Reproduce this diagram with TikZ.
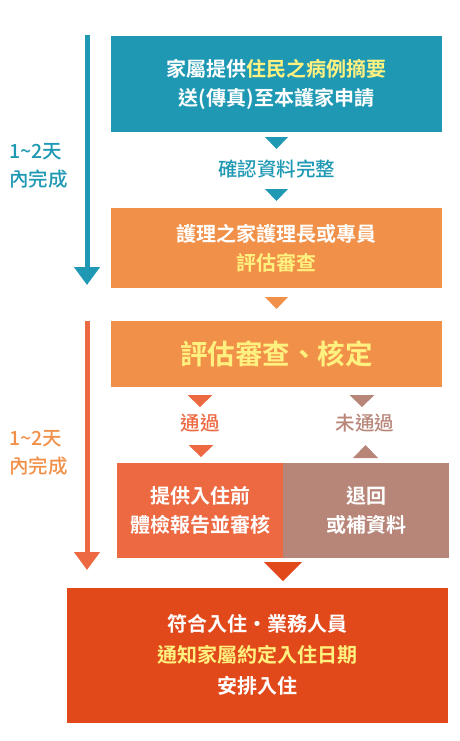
\documentclass[tikz,border=0pt]{standalone}
\usepackage{fontspec}
\setmainfont{Noto Sans CJK TC}[BoldFont={* Bold}]
\newfontfamily\labelfont{Noto Sans CJK TC Medium}
\usetikzlibrary{arrows.meta}

\definecolor{stepblue}{HTML}{1F99B3}
\definecolor{steporange}{HTML}{F19149}
\definecolor{passred}{HTML}{EC6941}
\definecolor{failbrown}{HTML}{B78679}
\definecolor{finalred}{HTML}{E2491A}
\definecolor{hilite}{HTML}{FFF17F}

\tikzset{
	box/.style={fill=#1, text=white, font=\bfseries\fontsize{20}{29}\selectfont, align=center, inner sep=0pt},
	note/.style={text=#1, font=\labelfont\fontsize{19.5}{28}\selectfont, inner sep=0pt},
	timeline/.style={draw=#1, line width=5pt, -{Triangle[width=25pt,length=18pt]}},
}

\begin{document}
\begin{tikzpicture}[x=1pt, y=-1pt]
	\useasboundingbox (0,0) rectangle (460,741);
	% Boxes
	\node [box=stepblue, minimum width=331pt, minimum height=96pt] (request) at (276.5,84)
		{家屬提供\textcolor{hilite}{住民之病例摘要}\\送(傳真)至本護家申請};
	\node [box=steporange, minimum width=331pt, minimum height=80pt] (review) at (276.5,248)
		{護理之家護理長或專員\\\textcolor{hilite}{評估審查}};
	\node [box=steporange, minimum width=331pt, minimum height=66pt, text=hilite, font=\bfseries\fontsize{27.5}{30}\selectfont] (decide) at (276.5,354)
		{評估審查、核定};
	\node [box=passred, minimum width=166pt, minimum height=95pt] (pass) at (200,510.5)
		{提供入住前\\體檢報告並審核};
	\node [box=failbrown, minimum width=166pt, minimum height=95pt] (fail) at (366,510.5)
		{退回\\或補資料};
	\node [box=finalred, minimum width=381pt, minimum height=135pt, font=\bfseries\fontsize{20}{31}\selectfont] (admit) at (257.5,655)
		{符合入住‧業務人員\\\textcolor{hilite}{通知家屬約定入住日期}\\安排入住};
	% Labels
	\node [note=stepblue] (check) at (276.5,169) {確認資料完整};
	\node [note=passred] (passlabel) at (200,423) {通過};
	\node [note=failbrown] (faillabel) at (365,423) {未通過};
	% Down triangles
	\foreach \x/\y/\w/\c in {276.5/137/11.5/stepblue, 276.5/189/11.5/stepblue, 276.5/297/11.5/steporange, 200/395/12.5/passred, 201/445/12.5/passred, 362/395/12.5/failbrown} {
		\fill [\c] (\x-\w,\y) -- (\x+\w,\y) -- (\x,\y+12) -- cycle;
	}
	% Up triangle
	\fill [failbrown] (353,458) -- (378,458) -- (365.5,445) -- cycle;
	% Last one
	\fill [finalred] (264,562) -- (302,562) -- (283,581) -- cycle;
	% Time lines
	\coordinate (bluetop) at (87,35);
	\coordinate (blueend) at (87,285);
	\coordinate (redtop) at (87,321);
	\coordinate (redend) at (87,570);
	\draw [timeline=stepblue] (bluetop) -- (blueend);
	\draw [timeline=passred] (redtop) -- (redend);
	\node [note=stepblue, anchor=west, align=left] (bluedays) at (9,166) {1\textasciitilde2天\\內完成};
	\node [note=steporange, anchor=west, align=left] (reddays) at (9,452.5) {1\textasciitilde2天\\內完成};
\end{tikzpicture}
\end{document}
